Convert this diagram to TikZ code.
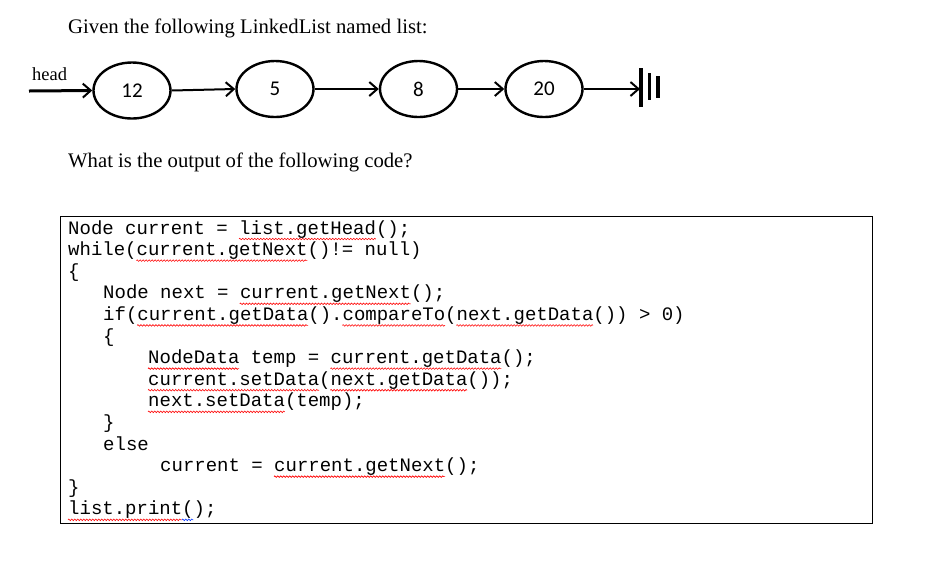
\documentclass[tikz,border=0pt]{standalone}
\usepackage{fontspec}
\setmainfont{Liberation Serif}
\setmonofont{Liberation Mono}
\newfontfamily\numfont{Carlito}
\usetikzlibrary{arrows.meta,decorations.pathmorphing,shapes.geometric}
\tikzset{
  titletext/.style={anchor=base west,inner sep=0pt,font=\fontsize{20.7}{20.7}\selectfont},
  listnode/.style={draw,line width=2.4pt,ellipse,minimum width=77pt,minimum height=56pt,inner sep=0pt,font=\numfont\fontsize{21}{21}\selectfont},
  link/.style={line width=2pt,-{Straight Barb[length=8pt,width=14pt,line width=2pt]}},
  codeline/.style={anchor=base west,inner sep=0pt,font=\ttfamily\fontsize{19}{19}\selectfont},
  squig/.style={draw=red,line width=0.6pt,decorate,decoration={zigzag,segment length=3pt,amplitude=0.8pt}},
  squigb/.style={draw=blue!80!cyan,line width=0.6pt,decorate,decoration={zigzag,segment length=3pt,amplitude=0.8pt}},
  bar/.style={line width=#1}
}
\newcommand{\sq}[4][squig]{\draw[#1] ([xshift=#3*11.4pt,yshift=-5pt]#2.base west) -- ([xshift=(#3+#4)*11.4pt,yshift=-5pt]#2.base west);}
\begin{document}
\begin{tikzpicture}[x=1pt,y=-1pt]
\useasboundingbox (0,0) rectangle (934,566);
% titles
\node[titletext] (t1) at (68,33) {Given the following LinkedList named list:};
\node[titletext] (t2) at (68,167) {What is the output of the following code?};
\node[anchor=base west,inner sep=0pt,font=\fontsize{18.5}{18.5}\selectfont] (hd) at (32,80) {head};
% linked list
\coordinate (hs) at (29,91);
\node[listnode] (n12) at (132,90.5) {12};
\node[listnode] (n5) at (275,89) {5};
\node[listnode] (n8) at (418.5,89) {8};
\node[listnode] (n20) at (544,89) {20};
\coordinate (gnd) at (640,89);
\draw[link,line width=3pt] (hs) -- (n12.west);
\draw[link] (n12.east) -- (n5.west);
\draw[link] (n5.east) -- (n8.west);
\draw[link] (n8.east) -- (n20.west);
\draw[link] (n20.east) -- (gnd);
\draw[bar=3.5pt] (641,68) -- (641,107);
\draw[bar=3pt] (649.5,73) -- (649.5,100);
\draw[bar=4pt] (658,76) -- (658,98);
% code box
\draw[line width=1pt] (60,216) rectangle (872,523);
\node[codeline] (l0) at (68,234) {Node current = list.getHead();};
\node[codeline] (l1) at (68,255.6) {while(current.getNext()!= null)};
\node[codeline] (l2) at (68,277.2) {\{};
\node[codeline] (l3) at (103,298.8) {Node next = current.getNext();};
\node[codeline] (l4) at (103,320.4) {if(current.getData().compareTo(next.getData()) > 0)};
\node[codeline] (l5) at (103,342) {\{};
\node[codeline] (l6) at (148,363.6) {NodeData temp = current.getData();};
\node[codeline] (l7) at (148,385.2) {current.setData(next.getData());};
\node[codeline] (l8) at (148,406.8) {next.setData(temp);};
\node[codeline] (l9) at (103,428.4) {\}};
\node[codeline] (l10) at (103,450) {else};
\node[codeline] (l11) at (160,471.6) {current = current.getNext();};
\node[codeline] (l12) at (68,493.2) {\}};
\node[codeline] (l13) at (68,514.8) {list.print();};
% spell-check underlines
\sq{l0}{15}{12}
\sq{l1}{6}{15}
\sq{l3}{12}{15}
\sq{l4}{3}{15}
\sq{l4}{21}{9}
\sq{l4}{31}{12}
\sq{l6}{0}{8}
\sq{l6}{16}{15}
\sq{l7}{0}{15}
\sq{l7}{16}{12}
\sq{l8}{0}{12}
\sq{l11}{10}{15}
\sq{l13}{0}{10}
\sq[squigb]{l13}{10}{1}
\end{tikzpicture}
\end{document}
